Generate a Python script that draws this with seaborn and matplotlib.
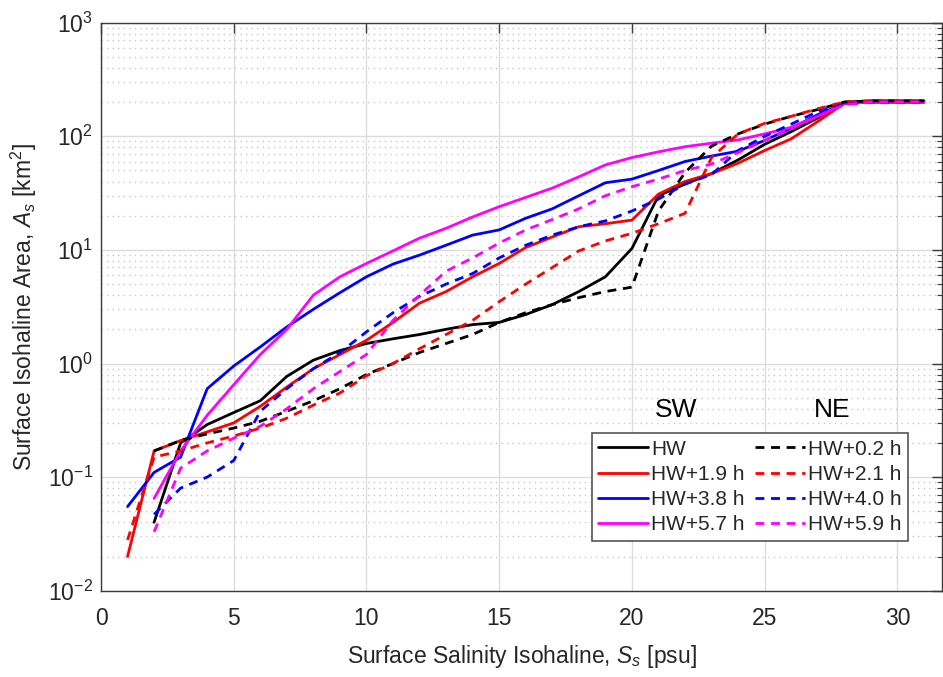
import numpy as np
import pandas as pd
import matplotlib
matplotlib.use("Agg")
import matplotlib.pyplot as plt
import seaborn as sns

# ---- data ----
hw_S = list(range(2, 32))
hw_A = [0.04, 0.2, 0.29, 0.37, 0.47, 0.77, 1.07, 1.3, 1.5, 1.65, 1.8, 2.0, 2.2, 2.3, 2.7, 3.3, 4.3, 5.8, 10.3,
        30, 38, 47, 62, 85, 110, 145, 200, 205, 205, 205]

hw02_S = list(range(2, 32))
hw02_A = [0.17, 0.21, 0.24, 0.27, 0.31, 0.38, 0.47, 0.6, 0.8, 1.0, 1.25, 1.5, 1.8, 2.3, 2.8, 3.3, 3.8, 4.3, 4.7,
          22, 48, 82, 105, 128, 150, 172, 200, 205, 205, 205]

hw19_S = list(range(1, 32))
hw19_A = [0.02, 0.17, 0.21, 0.25, 0.3, 0.42, 0.62, 0.9, 1.2, 1.6, 2.3, 3.4, 4.3, 5.8, 7.6, 10.5, 13, 16, 17, 18.3,
          31, 40, 47, 58, 75, 95, 135, 195, 200, 200, 200]

hw21_S = list(range(1, 32))
hw21_A = [0.028, 0.15, 0.17, 0.2, 0.23, 0.27, 0.33, 0.43, 0.55, 0.78, 1.0, 1.35, 1.8, 2.4, 3.5, 5.0, 7.0, 9.8, 12, 14,
          17, 21, 65, 105, 130, 150, 175, 200, 205, 205, 205]

hw38_S = list(range(1, 32))
hw38_A = [0.055, 0.11, 0.15, 0.6, 0.95, 1.4, 2.1, 3.0, 4.2, 5.8, 7.5, 9.0, 11, 13.5, 15, 19, 23, 30, 39, 42,
          50, 60, 67, 74, 92, 118, 155, 195, 200, 200, 200]

hw40_S = list(range(2, 32))
hw40_A = [0.047, 0.08, 0.1, 0.14, 0.38, 0.6, 0.9, 1.25, 1.9, 2.8, 3.9, 5.0, 6.2, 8.5, 11, 13.5, 16, 18, 22,
          28, 38, 46, 75, 100, 128, 165, 192, 200, 200, 200]

hw57_S = list(range(2, 32))
hw57_A = [0.065, 0.17, 0.35, 0.65, 1.2, 2.0, 4.0, 5.8, 7.6, 9.8, 12.7, 15.5, 19.5, 24, 29, 35, 44, 56, 65,
          73, 81, 87, 93, 105, 120, 150, 195, 200, 200, 200]

hw59_S = list(range(2, 32))
hw59_A = [0.033, 0.12, 0.17, 0.22, 0.28, 0.4, 0.6, 0.85, 1.2, 2.4, 4.0, 6.5, 8.5, 11.5, 15, 18.5, 23, 30, 36,
          42, 50, 57, 72, 92, 117, 150, 190, 200, 200, 200]

labels = ["HW", "HW+1.9 h", "HW+3.8 h", "HW+5.7 h",
          "HW+0.2 h", "HW+2.1 h", "HW+4.0 h", "HW+5.9 h"]
xs = [hw_S, hw19_S, hw38_S, hw57_S, hw02_S, hw21_S, hw40_S, hw59_S]
ys = [hw_A, hw19_A, hw38_A, hw57_A, hw02_A, hw21_A, hw40_A, hw59_A]
colors = ["black", "#ff0000", "#0000ff", "#ff00ff"] * 2
styles = ["-"] * 4 + ["--"] * 4

x_ticks = [0, 5, 10, 15, 20, 25, 30]

# ---- style ----
sns.set_theme(style="white")
plt.rcParams['font.family'] = ['Liberation Sans', 'DejaVu Sans']
plt.rcParams['mathtext.fontset'] = 'custom'
plt.rcParams['mathtext.rm'] = 'Liberation Sans'
plt.rcParams['mathtext.it'] = 'Liberation Sans:italic'
plt.rcParams['mathtext.bf'] = 'Liberation Sans:bold'

fig = plt.figure(figsize=(9.43, 6.77), dpi=100)
ax = fig.add_axes([101 / 943, (677 - 590.7) / 677, (942 - 101) / 943, 568 / 677])

for x, y, lab, c, ls in zip(xs, ys, labels, colors, styles):
    df = pd.DataFrame({"S": x, "A": y})
    sns.lineplot(data=df, x="S", y="A", ax=ax, color=c, linewidth=2.0,
                 linestyle=ls, label=lab, sort=False, estimator=None,
                 dashes=False)
    if ls == "--":
        ax.lines[-1].set_dashes((3.2, 2.4))

ax.set_yscale("log")
ax.set_xlim(0, 31.68)
ax.set_ylim(1e-2, 1e3)
ax.set_xticks(x_ticks)

ax.grid(True, which="major", color="#dcdcdc", linewidth=1.0, linestyle="-")
ax.grid(True, which="minor", axis="y", color="#c8c8c8", linewidth=1.0, linestyle=(0, (1, 3)))
ax.grid(False, which="minor", axis="x")
ax.set_axisbelow(True)

for sp in ax.spines.values():
    sp.set_color("#3a3a3a")
    sp.set_linewidth(1.0)
    sp.set_visible(True)

ax.tick_params(which="both", direction="in", top=True, right=True, colors="#3a3a3a",
               labelcolor="#262626", labelsize=16.5)
ax.tick_params(which="major", length=7, width=1.0)
ax.tick_params(which="minor", length=3.5, width=0.8)
ax.tick_params(axis="x", pad=12)
ax.tick_params(axis="y", pad=6)

ax.set_xlabel(r"Surface Salinity Isohaline, $\it{S}_s$ [psu]", fontsize=16.5, color="#262626", labelpad=9)
ax.set_ylabel(r"Surface Isohaline Area, $\it{A}_s$ [km$^2$]", fontsize=16.5, color="#262626", labelpad=6)

leg = ax.legend(loc="lower right", ncol=2, fontsize=15, frameon=True, fancybox=False,
                edgecolor="#555555", framealpha=1.0, handlelength=2.4, handletextpad=0.15,
                columnspacing=0.5, labelspacing=0.3, borderpad=0.3, borderaxespad=0,
                bbox_to_anchor=((908 - 101) / 841, (590.7 - 540.7) / 568))
leg.get_frame().set_linewidth(1.2)

ax.text((676 - 101) / 841, (590.7 - 410) / 568, "SW", transform=ax.transAxes,
        ha="center", va="center", fontsize=19, color="black")
ax.text((832 - 101) / 841, (590.7 - 410) / 568, "NE", transform=ax.transAxes,
        ha="center", va="center", fontsize=19, color="black")

fig.savefig("out.png", dpi=100)
